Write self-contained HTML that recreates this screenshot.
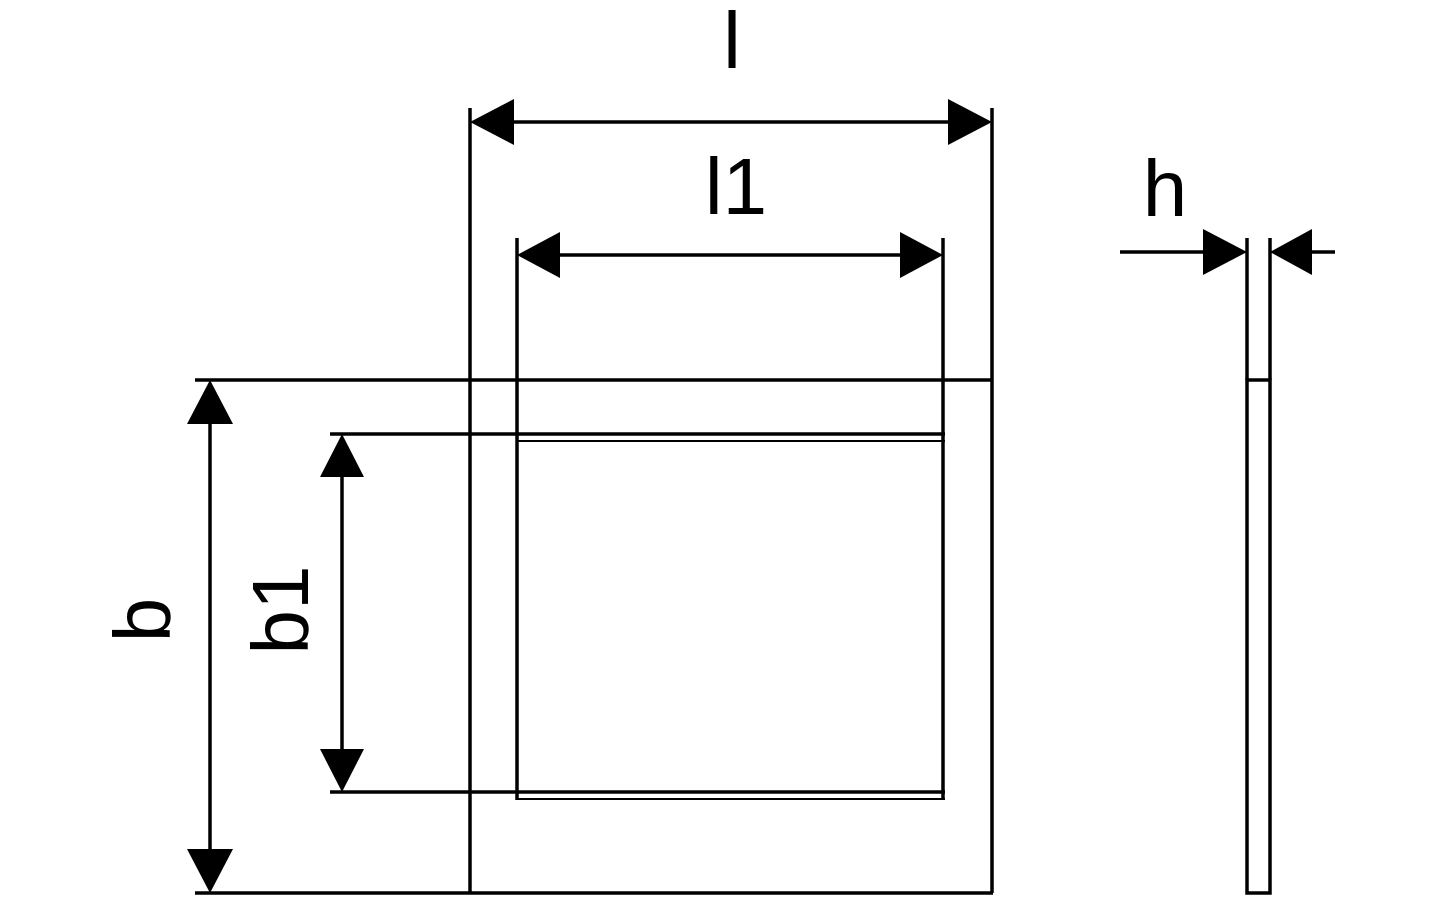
<!DOCTYPE html>
<html><head><style>html,body{margin:0;padding:0;background:#fff}</style></head>
<body>
<svg width="1442" height="901" viewBox="0 0 1442 901" xmlns="http://www.w3.org/2000/svg">
<g stroke="#000" stroke-width="3.5" fill="none">
<line x1="195" y1="380" x2="993" y2="380"/>
<line x1="195" y1="893" x2="993" y2="893"/>
<line x1="470" y1="108" x2="470" y2="893"/>
<line x1="992" y1="108" x2="992" y2="893"/>
<line x1="517" y1="238" x2="517" y2="800"/>
<line x1="943" y1="238" x2="943" y2="800"/>
<line x1="330" y1="434" x2="945" y2="434"/>
<line x1="517" y1="441" x2="945" y2="441" stroke-width="2"/>
<line x1="330" y1="792" x2="945" y2="792"/>
<line x1="517" y1="799" x2="945" y2="799" stroke-width="2"/>
<line x1="490" y1="122" x2="972" y2="122"/>
<line x1="535" y1="255" x2="925" y2="255"/>
<line x1="210" y1="395" x2="210" y2="878"/>
<line x1="342" y1="450" x2="342" y2="778"/>
<line x1="1120" y1="252" x2="1230" y2="252"/>
<line x1="1285" y1="252" x2="1335" y2="252"/>
<rect x="1247" y="380" width="23" height="513"/>
<line x1="1247" y1="238" x2="1247" y2="380"/>
<line x1="1270" y1="238" x2="1270" y2="380"/>
</g>
<g fill="#000">
<polygon points="470,122 514,99 514,145"/>
<polygon points="992,122 948,99 948,145"/>
<polygon points="517,255 560,232 560,278"/>
<polygon points="943,255 900,232 900,278"/>
<polygon points="210,380 187,424 233,424"/>
<polygon points="210,893 187,849 233,849"/>
<polygon points="342,434 320,477 364,477"/>
<polygon points="342,792 320,749 364,749"/>
<polygon points="1247,252 1203,229 1203,275"/>
<polygon points="1270,252 1312,229 1312,275"/>
</g>
<g font-family="Liberation Sans, sans-serif" font-size="80" fill="#000" text-anchor="middle">
<text x="732" y="68">l</text>
<text x="736" y="214">l1</text>
<text x="1165" y="216">h</text>
<text transform="translate(170,620) rotate(-90)">b</text>
<text transform="translate(308,610) rotate(-90)">b1</text>
</g>
</svg>
</body></html>
